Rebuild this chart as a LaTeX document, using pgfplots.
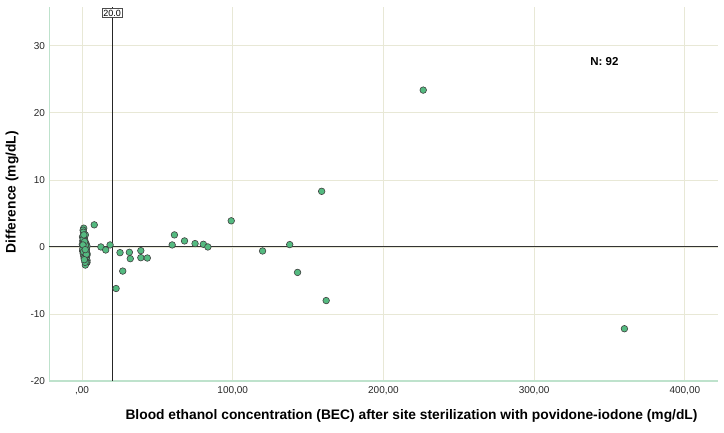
\documentclass[border=0pt]{standalone}
\usepackage{pgfplots}
\pgfplotsset{compat=1.18}
\usepackage{fontspec}
\setmainfont{Liberation Sans}
\definecolor{ptfill}{RGB}{84,186,128}
\definecolor{gridc}{RGB}{232,232,214}
\definecolor{axc}{RGB}{190,226,204}
\begin{document}
\begin{tikzpicture}
\useasboundingbox (-49.5pt,-51pt) rectangle (674.5pt,381pt);
\begin{axis}[
  at={(0,0)}, anchor=south west,
  scale only axis, width=668.5pt, height=374pt,
  xmin=-21.6, xmax=422, ymin=-20, ymax=35.8,
  axis lines*=left,
  axis line style={axc, line width=1.2pt, -},
  xtick={0,100,200,300,400},
  xticklabels={{,00},{100,00},{200,00},{300,00},{400,00}},
  ytick={-20,-10,0,10,20,30},
  major tick length=0pt,
  grid=major,
  major grid style={gridc, line width=0.8pt},
  tick label style={font=\fontsize{10}{11}\selectfont, text=black!85},
  /pgf/number format/assume math mode=true,
  xticklabel style={yshift=-2pt},
  yticklabel style={xshift=-1pt},
  xlabel={Blood ethanol concentration (BEC) after site sterilization with povidone-iodone (mg/dL)},
  ylabel={Difference (mg/dL)},
  xlabel style={font=\fontsize{13.8}{15}\selectfont\bfseries, at={(axis description cs:0.5415,0)}, anchor=center, yshift=-35pt},
  ylabel style={font=\fontsize{13.8}{15}\selectfont\bfseries, at={(axis description cs:0,0.505)}, anchor=center, yshift=37.5pt},
  clip=false,
]
\draw[black!80, line width=1pt] (axis cs:-21.6,0) -- (axis cs:422,0);
\draw[black!85, line width=1.3pt] (axis cs:20,-20) -- (axis cs:20,35.8);
\node[draw=black!70, fill=white, inner sep=1.2pt, anchor=north, font=\fontsize{9}{10}\selectfont] at (axis cs:20,35.6) {20.0};
\node[font=\fontsize{11.5}{12}\selectfont\bfseries] at (axis cs:346.6,27.6) {N: 92};
\addplot[only marks, mark=*, mark size=3.3pt, mark options={fill=ptfill, draw=black!75, line width=0.6pt}] coordinates {
(1.1,2.8) (0.7,2.5) (0.9,2.2) (2.2,1.8) (0.3,1.5) (1.5,1.3) (1.8,1.0) (0.5,0.9) (1.1,0.7) (2.7,0.5)
(0.2,0.4) (1.4,0.3) (2.0,0.2) (3.3,0.1) (0.6,0.1) (1.5,0.0) (2.4,-0.1) (0.9,-0.2) (1.7,-0.3) (2.9,-0.3)
(1.1,-0.45) (2.7,-0.6) (0.4,-0.6) (1.9,-0.7) (1.3,-0.8) (2.3,-0.9) (1.8,-0.95) (3.3,-1.0) (0.8,-1.0) (2.0,-1.1)
(3.3,-1.2) (1.5,-1.2) (2.6,-1.3) (1.2,-1.4) (2.2,-1.5) (3.0,-1.5) (1.7,-1.6) (2.5,-1.7) (2.7,-1.9) (1.9,-1.8)
(3.3,-2.0) (2.2,-2.1) (3.3,-2.3) (2.8,-2.4) (2.2,-2.7) (1.0,0.5) (1.3,-0.1) (2.1,0.6) (0.8,1.2) (1.6,-0.5)
(2.4,-1.0) (1.2,0.2) (2.6,-0.2) (0.5,-0.3) (1.9,0.1) (2.9,-0.8) (1.4,-1.7) (2.0,-2.3) (1.0,-0.7) (2.3,0.3)
(1.7,0.8) (0.6,0.3) (2.8,-1.1) (1.5,-1.9) (2.1,-0.4) (1.2,1.8)
(8.1,3.3) (12.5,0.0) (15.7,-0.45) (18.6,0.3) (22.6,-6.2) (25.2,-0.85) (27.0,-3.6) (31.4,-0.8) (32.0,-1.75)
(39.0,-0.55) (39.0,-1.6) (43.3,-1.65) (59.8,0.3) (61.3,1.8) (68.0,0.9) (75.0,0.5) (80.5,0.4) (83.5,0.0)
(99.0,3.9) (119.8,-0.6) (137.8,0.35) (143.0,-3.8) (159.0,8.3) (162.0,-8.0) (226.4,23.4) (359.9,-12.2)
};
\end{axis}
\end{tikzpicture}
\end{document}
